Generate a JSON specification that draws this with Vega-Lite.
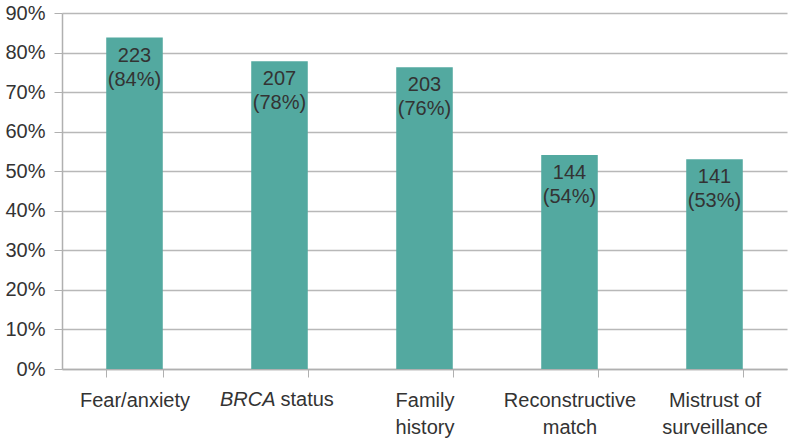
{
  "$schema": "https://vega.github.io/schema/vega-lite/v6.json",
  "width": 725,
  "height": 356,
  "autosize": {"type": "none"},
  "padding": {"left": 62, "top": 13, "right": 2, "bottom": 71},
  "background": "white",
  "config": {
    "view": {"stroke": null},
    "font": "Liberation Sans"
  },
  "data": {
    "values": [
      {"reason": "Fear/anxiety", "n": 223, "pct": 0.838},
      {"reason": "BRCA status", "n": 207, "pct": 0.778},
      {"reason": "Family history", "n": 203, "pct": 0.763},
      {"reason": "Reconstructive match", "n": 144, "pct": 0.541},
      {"reason": "Mistrust of surveillance", "n": 141, "pct": 0.530}
    ]
  },
  "encoding": {
    "x": {
      "field": "reason",
      "type": "nominal",
      "sort": null,
      "scale": {"paddingInner": 0.61, "paddingOuter": 0.305},
      "axis": {
        "title": null,
        "labelAngle": 0,
        "labelFontSize": 20,
        "labelColor": "#333333",
        "labelPadding": 13,
        "labelLineHeight": 27,
        "labelExpr": "datum.label == 'Fear/anxiety' ? 'Fear/anxiety' : datum.label == 'Family history' ? ['Family', 'history'] : datum.label == 'Reconstructive match' ? ['Reconstructive', 'match'] : datum.label == 'Mistrust of surveillance' ? ['Mistrust of', 'surveillance'] : ''",
        "tickBand": "extent",
        "tickSize": 8,
        "tickColor": "#b0b0b0",
        "domainColor": "#b0b0b0",
        "domainWidth": 1.5,
        "grid": false
      }
    },
    "y": {
      "field": "pct",
      "type": "quantitative",
      "scale": {"domain": [0, 0.9]},
      "axis": {
        "title": null,
        "format": ".0%",
        "values": [0, 0.1, 0.2, 0.3, 0.4, 0.5, 0.6, 0.7, 0.8, 0.9],
        "labelFontSize": 20,
        "labelColor": "#333333",
        "labelPadding": 9,
        "tickSize": 8,
        "tickColor": "#b0b0b0",
        "domainColor": "#b0b0b0",
        "domainWidth": 1.5,
        "gridColor": "#b8b8b8",
        "gridWidth": 1.5
      }
    }
  },
  "layer": [
    {"mark": {"type": "bar", "color": "#53a9a0"}},
    {
      "transform": [
        {"calculate": "datum.n + '\\n(' + format(datum.pct, '.0%') + ')'", "as": "lbl"}
      ],
      "mark": {"type": "text", "baseline": "top", "dy": 8, "fontSize": 20, "lineHeight": 24, "lineBreak": "\n", "color": "#333333"},
      "encoding": {"text": {"field": "lbl"}}
    },
    {
      "transform": [{"filter": "datum.reason == 'BRCA status'"}],
      "mark": {"type": "text", "baseline": "top", "align": "right", "dy": 21, "dx": -4, "fontSize": 20, "fontStyle": "italic", "color": "#333333"},
      "encoding": {"y": {"datum": 0}, "text": {"value": "BRCA"}}
    },
    {
      "transform": [{"filter": "datum.reason == 'BRCA status'"}],
      "mark": {"type": "text", "baseline": "top", "align": "left", "dy": 21, "dx": 1, "fontSize": 20, "color": "#333333"},
      "encoding": {"y": {"datum": 0}, "text": {"value": "status"}}
    }
  ]
}
